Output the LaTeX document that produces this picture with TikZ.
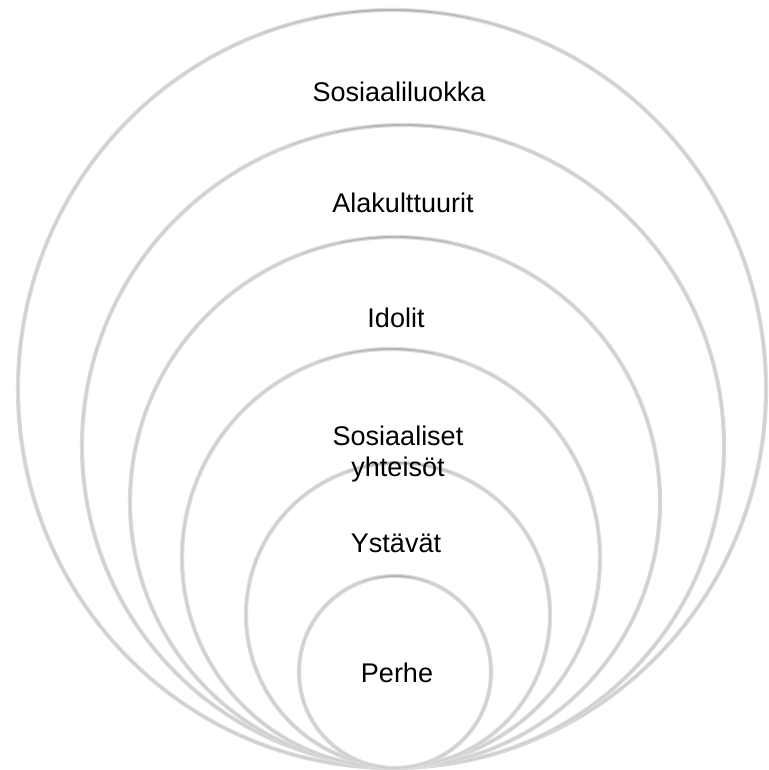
\documentclass[tikz,border=0pt]{standalone}
\usepackage{fontspec}
\setmainfont{Liberation Sans}
\begin{document}
\begin{tikzpicture}[x=1pt,y=1pt,
  ring/.style={draw=gray!28, line width=4.2pt, fill=white},
  ringcore/.style={draw=gray!38, line width=1.6pt},
  ringtop/.style={draw=gray!70, line width=1.4pt, line cap=round},
  lbl/.style={font=\fontsize{27}{31}\selectfont, text=black, inner sep=0pt}]
\useasboundingbox (0,0) rectangle (768,770);
% rings, outermost first; image y turned into TikZ y = 770 - y
\def\ringA{(392,381)}
\path[ring] \ringA ellipse [x radius=374, y radius=379];
\path[ringcore] \ringA ellipse [x radius=374, y radius=379];
\foreach \cx/\cy/\r in {403/324/321, 395/268/265, 391/212/209, 398/155/152, 395/98/96}{
  \path[ring] (\cx,\cy) circle [radius=\r];
  \path[ringcore] (\cx,\cy) circle [radius=\r];
}
% darker shade along the top of each ring
\foreach \cx/\cy/\rx/\ry in {392/381/374/379, 403/324/321/321, 395/268/265/265, 391/212/209/209, 398/155/152/152, 395/98/96/96}{
  \draw[ringtop, opacity=0.25] ([shift={(70:\rx pt and \ry pt)}]\cx,\cy) arc [start angle=70, end angle=110, x radius=\rx, y radius=\ry];
  \draw[ringtop, opacity=0.35] ([shift={(78:\rx pt and \ry pt)}]\cx,\cy) arc [start angle=78, end angle=102, x radius=\rx, y radius=\ry];
  \draw[ringtop, opacity=0.45] ([shift={(84:\rx pt and \ry pt)}]\cx,\cy) arc [start angle=84, end angle=96, x radius=\rx, y radius=\ry];
}
% labels
\node[lbl, anchor=base] (luokka) at (399,668) {Sosiaaliluokka};
\node[lbl, anchor=base] (ala) at (403,557) {Alakulttuurit};
\node[lbl, anchor=base] (idolit) at (396,442) {Idolit};
\node[lbl, align=center, anchor=center] (yht) at (398,315.5) {Sosiaaliset\\yhteisöt};
\node[lbl, anchor=base] (ystavat) at (396,217) {Ystävät};
\node[lbl, anchor=base] (perhe) at (397,87) {Perhe};
\end{tikzpicture}
\end{document}
